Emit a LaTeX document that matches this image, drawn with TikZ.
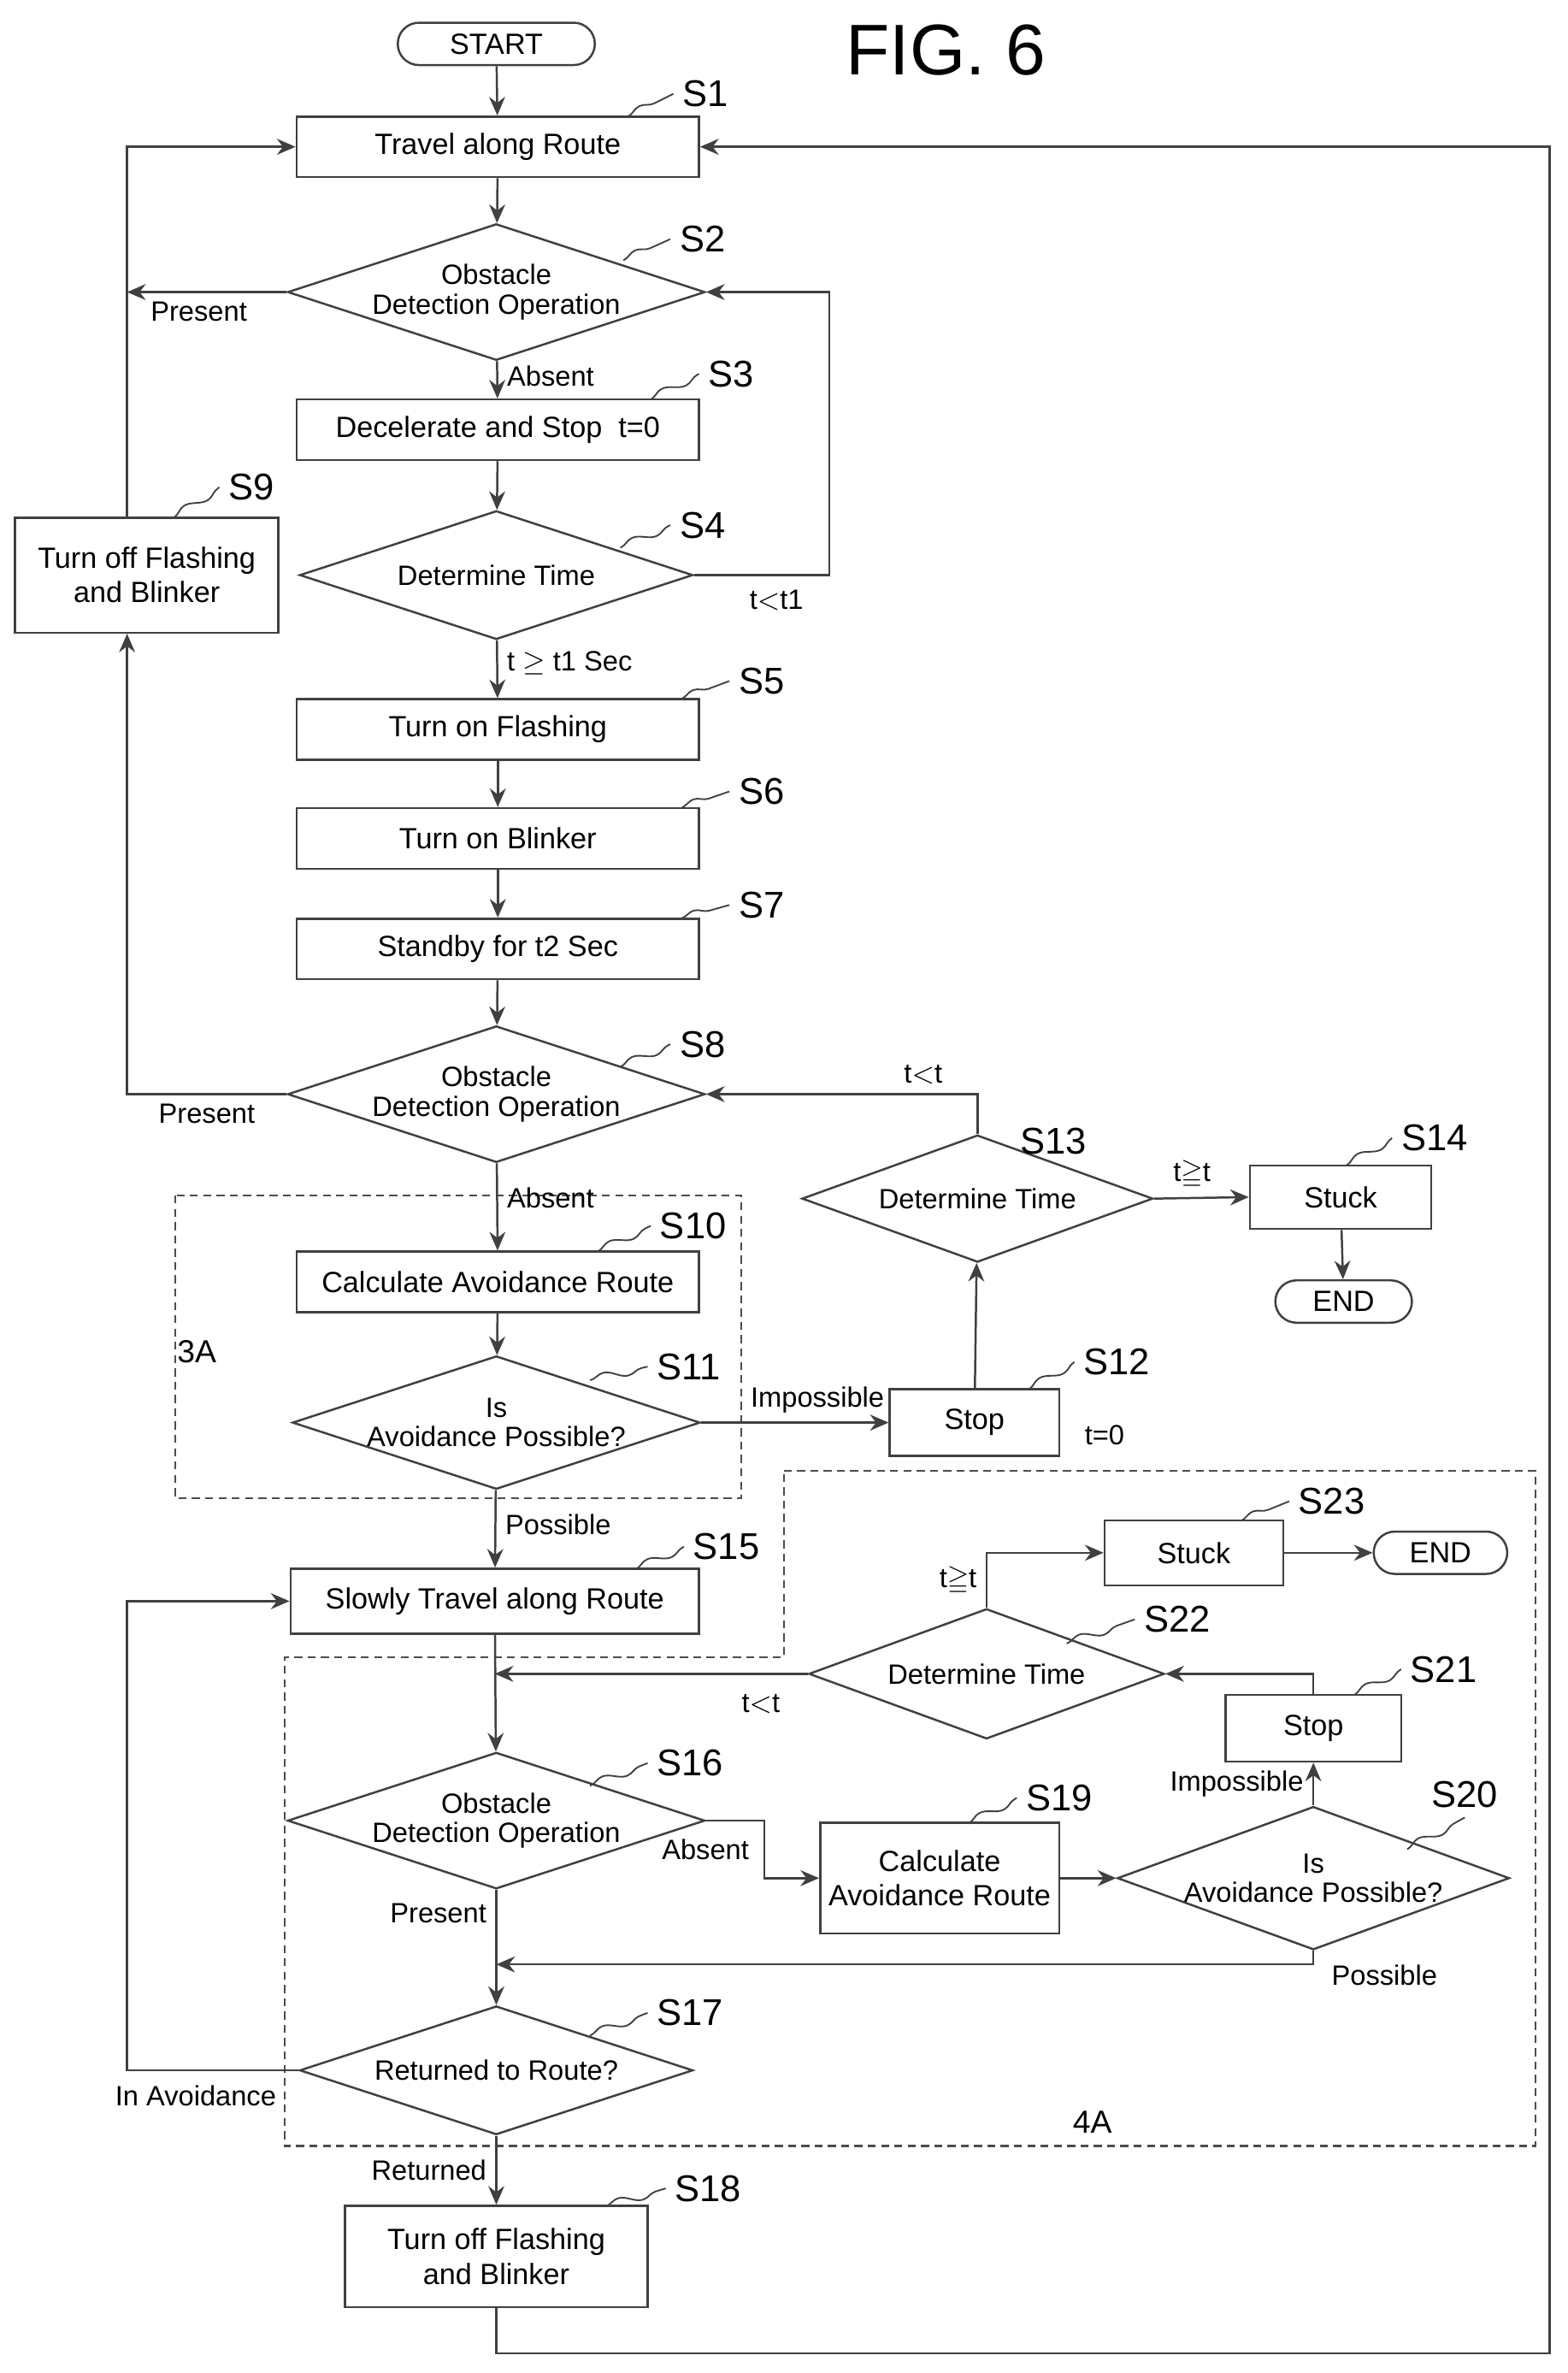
\documentclass[tikz,border=0pt]{standalone}
\usepackage{amssymb}
\usepackage{fontspec}
\setmainfont{Liberation Sans}
\usetikzlibrary{shapes.geometric,shapes.misc,arrows.meta,decorations.pathmorphing}

\tikzset{
  line/.style={draw=black!75, line width=0.8pt},
  arr/.style={line, -{Stealth[length=7pt,width=6pt]}},
  box/.style={line, rectangle, minimum width=5.32cm, minimum height=0.8cm, inner sep=2pt, align=center, font=\fontsize{11}{13}\selectfont},
  dec/.style={line, diamond, aspect=3.06, minimum width=5.2cm, minimum height=1.7cm, inner sep=0pt, align=center, font=\fontsize{10.5}{11}\selectfont},
  term/.style={line, rounded rectangle, minimum height=0.56cm, font=\fontsize{11}{13}\selectfont},
  steptext/.style={font=\fontsize{14}{14}\selectfont, anchor=west},
  tilde/.style={line, line width=0.6pt, decorate, decoration={snake, amplitude=1.6pt, segment length=0.62cm}},
  lbl/.style={font=\fontsize{10.5}{12}\selectfont},
  region/.style={draw=black!70, line width=0.7pt, dash pattern=on 3pt off 2pt},
}

\newcommand{\steptag}[3]{%
  \node[steptext] (#3) at (#2) {#3};
  \draw[tilde] (#1) -- (#3.west);}

\begin{document}
\begin{tikzpicture}[x=0.02cm, y=-0.02cm]
  \useasboundingbox (0,0) rectangle (1036,1568);

  % dashed regions
  \draw[region] (116,790) rectangle (490,990);
  \node[font=\fontsize{12}{12}\selectfont] (r3a) at (130,893) {3A};
  \draw[region] (518,972) -- (1015,972) -- (1015,1418) -- (188,1418) -- (188,1095) -- (518,1095) -- cycle;
  \node[font=\fontsize{12}{12}\selectfont] (r4a) at (722,1402) {4A};

  \node[font=\fontsize{27}{27}\selectfont] (fig) at (625,33) {FIG. 6};

  % main column
  \node[term, minimum width=2.84cm] (start) at (328,29) {START};
  \node[box] (s1) at (329,97) {Travel along Route};
  \node[dec] (s2) at (328,193) {Obstacle\\Detection Operation};
  \node[box] (s3) at (329,284) {Decelerate and Stop\ \ t=0};
  \node[dec] (s4) at (328,380) {Determine Time};
  \node[box, minimum width=3.48cm, minimum height=1.52cm] (s9) at (97,380) {Turn off Flashing\\and Blinker};
  \node[box] (s5) at (329,482) {Turn on Flashing};
  \node[box] (s6) at (329,554) {Turn on Blinker};
  \node[box] (s7) at (329,627) {Standby for t2 Sec};
  \node[dec] (s8) at (328,723) {Obstacle\\Detection Operation};
  \node[box] (s10) at (329,847) {Calculate Avoidance Route};
  \node[dec] (s11) at (328,940) {Is\\Avoidance Possible?};
  \node[box, minimum width=2.24cm, minimum height=0.88cm] (s12) at (644,940) {Stop};
  \node[dec, minimum width=4.64cm, minimum height=1.68cm, aspect=2.76] (s13) at (646,792) {Determine Time};
  \node[box, minimum width=2.4cm, minimum height=0.84cm] (s14) at (886,791) {Stuck};
  \node[term, minimum width=2.04cm] (end1) at (888,860) {END};
  \node[box, minimum width=5.4cm, minimum height=0.86cm] (s15) at (327,1058) {Slowly Travel along Route};
  \node[dec, minimum width=4.7cm, minimum height=1.72cm, aspect=2.73] (s22) at (652,1106) {Determine Time};
  \node[box, minimum width=2.36cm, minimum height=0.86cm] (s23) at (789,1026) {Stuck};
  \node[term, minimum width=2.0cm] (end2) at (952,1026) {END};
  \node[box, minimum width=2.32cm, minimum height=0.88cm] (s21) at (868,1142) {Stop};
  \node[dec] (s16) at (328,1203) {Obstacle\\Detection Operation};
  \node[box, minimum width=3.16cm, minimum height=1.46cm] (s19) at (621,1241) {Calculate\\Avoidance Route};
  \node[dec, minimum width=4.72cm, minimum height=1.72cm, aspect=2.74] (s20) at (868,1241) {Is\\Avoidance Possible?};
  \node[dec] (s17) at (328,1368) {Returned to Route?};
  \node[box, minimum width=4.0cm, minimum height=1.34cm] (s18) at (328,1491) {Turn off Flashing\\and Blinker};

  % step numbers
  \steptag{415,77}{445,62}{S1}
  \steptag{412,172}{443,158}{S2}
  \steptag{430,264}{462,247}{S3}
  \steptag{410,362}{443,347}{S4}
  \steptag{115,342}{145,322}{S9}
  \steptag{450,462}{482,450}{S5}
  \steptag{450,534}{482,523}{S6}
  \steptag{450,607}{482,598}{S7}
  \steptag{410,705}{443,690}{S8}
  \steptag{395,827}{430,810}{S10}
  \steptag{390,912}{428,903}{S11}
  \steptag{680,918}{710,900}{S12}
  \node[steptext] (S13) at (668,754) {S13};
  \steptag{890,770}{920,752}{S14}
  \steptag{420,1037}{452,1022}{S15}
  \steptag{390,1180}{428,1165}{S16}
  \steptag{390,1345}{428,1330}{S17}
  \steptag{400,1458}{440,1446}{S18}
  \steptag{640,1205}{672,1188}{S19}
  \node[steptext] (S20) at (940,1186) {S20};
  \draw[tilde] (930,1222) -- (S20.south);
  \steptag{895,1120}{926,1103}{S21}
  \steptag{705,1086}{750,1070}{S22}
  \steptag{820,1005}{852,992}{S23}

  \coordinate (lx) at (84,0);
  \coordinate (rx) at (1024,0);
  \coordinate (ax) at (548,0);
  \coordinate (py) at (0,1298);
  \coordinate (by) at (0,1555);

  % connectors
  \draw[arr] (start) -- (s1);
  \draw[arr] (s1) -- (s2);
  \draw[arr] (s2) -- node[lbl, right, pos=0.4] {Absent} (s3);
  \draw[arr] (s2.west) -- node[lbl, below, pos=0.55] {Present} (lx |- s2.west);
  \draw[arr] (s9.north -| lx) -- (lx |- s1) -- (s1.west);
  \draw[arr] (s3) -- (s4);
  \draw[arr] (s4.east) -- (ax |- s4.east) -- node[lbl, pos=0.0, below left, xshift=-6pt, yshift=-2pt] {t$<$t1} (ax |- s2.east) -- (s2.east);
  \draw[arr] (s4) -- node[lbl, right, pos=0.4] {t $\geq$ t1 Sec} (s5);
  \draw[arr] (s5) -- (s6);
  \draw[arr] (s6) -- (s7);
  \draw[arr] (s7) -- (s8);
  \draw[arr] (s8.west) -- node[lbl, below, pos=0.5] {Present} (lx |- s8.west) -- (lx |- s9.south);
  \draw[arr] (s8) -- node[lbl, right, pos=0.4] {Absent} (s10);
  \draw[arr] (s10) -- (s11);
  \draw[arr] (s11.east) -- node[lbl, above, pos=0.62] {Impossible} (s12.west);
  \node[lbl] (t0) at (730,948) {t=0};
  \draw[arr] (s12) -- (s13);
  \draw[arr] (s13.north) -- (s13.north |- s8.east) -- node[lbl, above, pos=0.2] {t$<$t} (s8.east);
  \draw[arr] (s13.east) -- node[lbl, above, pos=0.4] {t$\geqq$t} (s14.west);
  \draw[arr] (s14) -- (end1);
  \draw[arr] (s11) -- node[lbl, right, pos=0.45] {Possible} (s15);
  \draw[arr] (s15) -- (s16);
  \draw[arr] (s22.west) -- node[lbl, below, pos=0.15, yshift=-4pt] {t$<$t} (s15.south |- s22.west);
  \draw[arr] (s22.north) -- node[lbl, left, pos=0.1, yshift=8pt] {t$\geqq$t} (s22.north |- s23.west) -- (s23.west);
  \draw[arr] (s23) -- (end2);
  \draw[arr] (s21.north) -- (s21.north |- s22.east) -- (s22.east);
  \draw[arr] (s16.east) -- (505,1203) -- node[lbl, left, pos=0.5, xshift=-2pt] {Absent} (505,1241) -- (s19.west);
  \draw[arr] (s16) -- node[lbl, left, pos=0.2] {Present} (s17);
  \draw[arr] (s19) -- (s20);
  \draw[arr] (s20) -- node[lbl, left, pos=0.5] {Impossible} (s21);
  \draw[arr] (s20.south) -- (s20.south |- py) -- (s16.south |- py);
  \node[lbl] (pos2) at (915,1305) {Possible};
  \draw[arr] (s17.west) -- node[lbl, below, pos=0.6, yshift=-2pt] {In Avoidance} (lx |- s17.west) -- (lx |- s15) -- (s15.west);
  \draw[arr] (s17) -- node[lbl, left, pos=0.5] {Returned} (s18);
  \draw[arr] (s18.south) -- (s18.south |- by) -- (rx |- by) -- (rx |- s1) -- (s1.east);
\end{tikzpicture}
\end{document}
